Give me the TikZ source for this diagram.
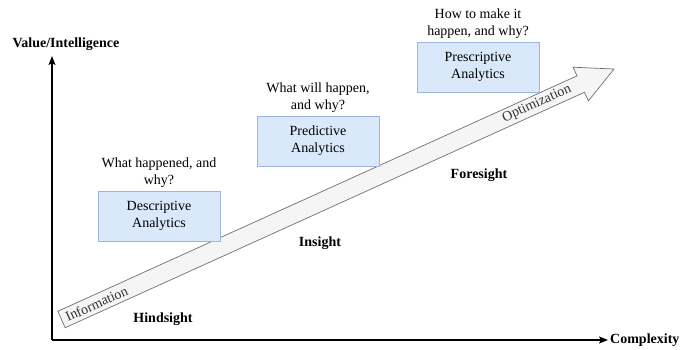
\documentclass[tikz,border=0pt]{standalone}
\usepackage{fontspec}
\setmainfont{Liberation Serif}
\usetikzlibrary{arrows.meta,calc}
\definecolor{boxfill}{HTML}{DAE8FC}
\definecolor{boxline}{HTML}{9DB5DC}
\definecolor{arrowfill}{HTML}{F5F5F5}
\definecolor{arrowline}{HTML}{707070}
\definecolor{textgray}{HTML}{333333}
\begin{document}
\begin{tikzpicture}[x=1pt,y=-1pt,
  every node/.style={font=\fontsize{14}{17}\selectfont, inner sep=0pt},
  box/.style={draw=boxline, fill=boxfill, line width=0.8pt, minimum width=122pt, minimum height=50pt, align=center},
  head/.style={align=center, anchor=south, yshift=3pt},
  lbl/.style={font=\fontsize{14}{17}\selectfont\bfseries},
  axis/.style={line width=1.5pt, -{Stealth[length=9pt,width=7pt,inset=2pt]}},
  arrowtext/.style={rotate=24.39, text=textgray}
  ]
\useasboundingbox (0,0) rectangle (691,349);
\fill[white] (0,0) rectangle (691,349);

% axes
\coordinate (O) at (52,340);
\coordinate (Ytop) at (52,56);
\coordinate (Xend) at (608,340);
\draw[axis] (O) -- (Ytop);
\draw[axis] (O) -- (Xend);
\node[lbl] (ylab) at (66,44) {Value/Intelligence};
\node[lbl, anchor=west] (xlab) at (610,340) {Complexity};

% big arrow
\draw[draw=arrowline, fill=arrowfill, line width=0.7pt, line join=miter]
  (57.78,311.30) -- (577.04,75.87) -- (573.12,67.22) -- (614,69)
  -- (588.40,100.92) -- (584.48,92.27) -- (65.22,327.70) -- cycle;
\node[arrowtext] (info) at (96.5,303.6) {Information};
\node[arrowtext] (opt) at (537,103.9) {Optimization};

% boxes
\node[box] (desc) at (159,216) {Descriptive\\Analytics};
\node[box] (pred) at (318,141) {Predictive\\Analytics};
\node[box] (presc) at (478,67) {Prescriptive\\Analytics};

\node[head] (qdesc) at (desc.north) {What happened, and\\why?};
\node[head] (qpred) at (pred.north) {What will happen,\\and why?};
\node[head] (qpresc) at (presc.north) {How to make it\\happen, and why?};

% labels
\node[lbl] (hind) at (163,319) {Hindsight};
\node[lbl] (ins) at (320,243) {Insight};
\node[lbl] (fore) at (479,175) {Foresight};
\end{tikzpicture}
\end{document}
